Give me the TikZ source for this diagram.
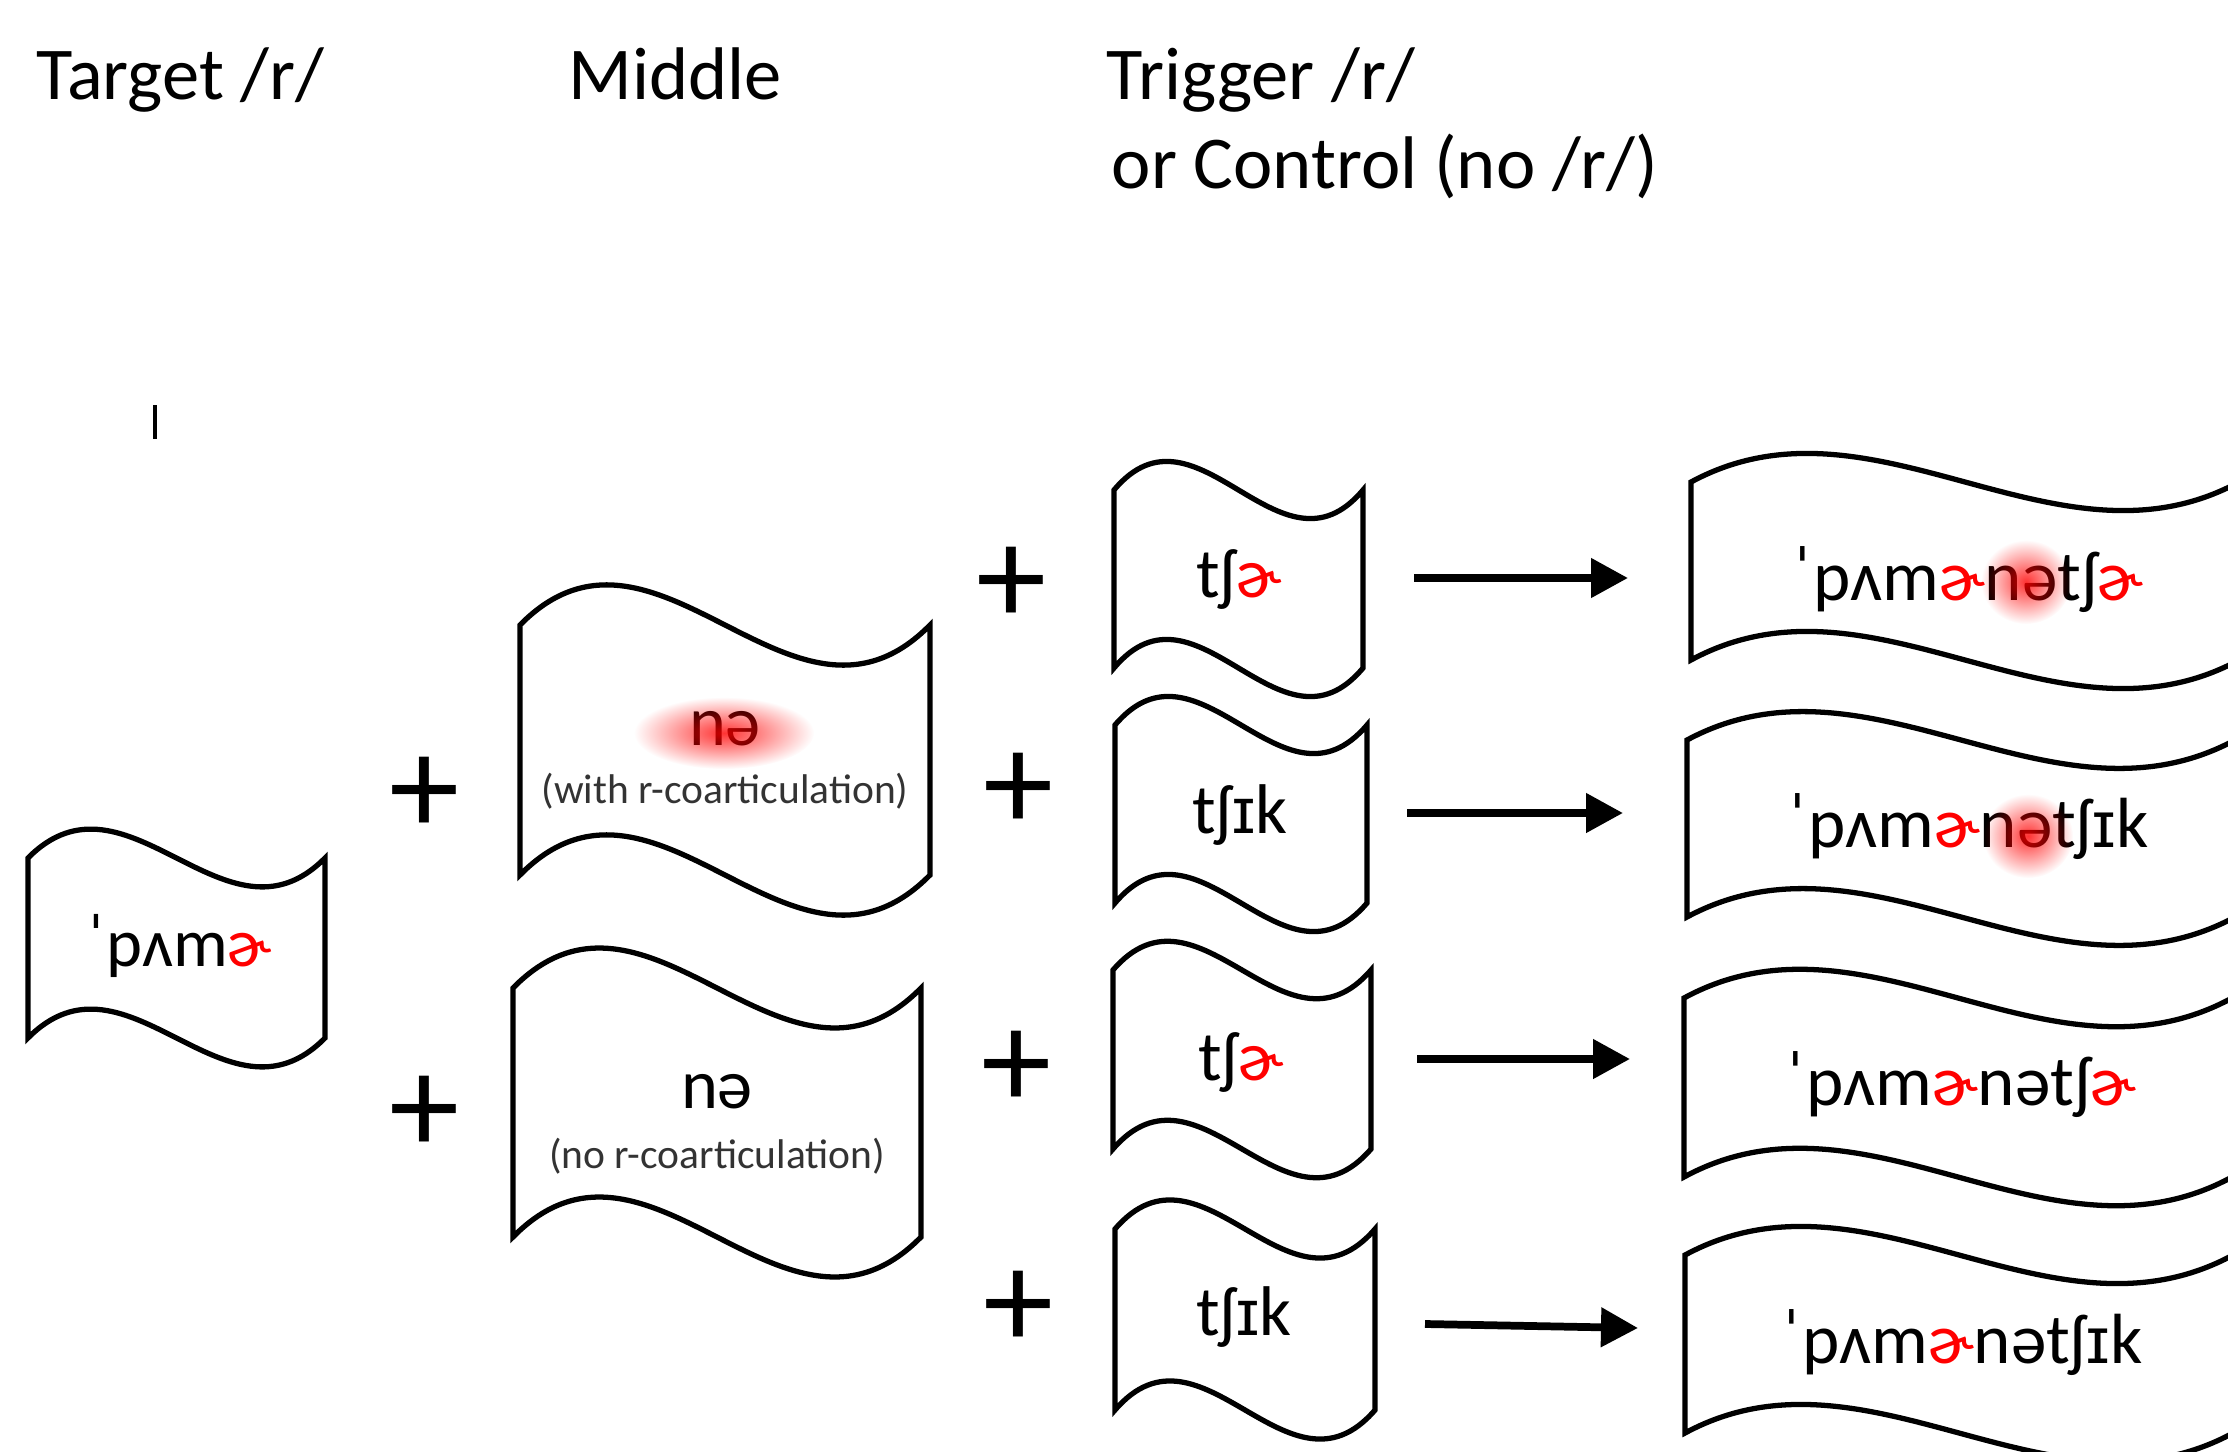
\documentclass[tikz,border=0pt]{standalone}
\usepackage{fontspec}
\setmainfont{Carlito}
\newfontfamily\ipaalt{Liberation Sans}[Scale=0.92]
\usetikzlibrary{arrows.meta,fadings}

\tikzfading[name=glowfade, inner color=transparent!20, outer color=transparent!100]

\newcommand{\rhot}[1]{\textcolor{red}{#1}}
\newcommand{\smI}{{\ipaalt ɪ}}
% flag: x, y (top left corner), width, height
\newcommand{\waveflag}[4]{%
  \draw[flagline] (#1,#2)
    .. controls ({#1+#3/3},{#2-0.556*#4}) and ({#1+2*#3/3},{#2+0.556*#4}) .. ({#1+#3},#2)
    -- ({#1+#3},{#2+#4})
    .. controls ({#1+2*#3/3},{#2+1.556*#4}) and ({#1+#3/3},{#2+0.444*#4}) .. (#1,{#2+#4})
    -- cycle;}

\begin{document}
\begin{tikzpicture}[x=0.01cm, y=-0.01cm,
    flagline/.style={line width=1.5pt, fill=white, line join=miter},
    title/.style={font=\fontsize{21.2}{25}\selectfont, anchor=base west, inner sep=0pt},
    ipa/.style={font=\fontsize{20}{24}\selectfont, anchor=base, inner sep=0pt},
    ipabig/.style={font=\fontsize{20.2}{24}\selectfont, anchor=base, inner sep=0pt},
    note/.style={font=\fontsize{11.8}{14}\selectfont, text=black!80, anchor=base, inner sep=0pt},
    plus/.style={font=\fontsize{40}{44}\selectfont, inner sep=0pt},
    arr/.style={line width=2.2pt, -{Triangle[length=0.37cm, width=0.38cm]}}]
  \useasboundingbox (0,0) rectangle (2228,1452);

  % headings
  \node[title] (htgt) at (36,100) {Target /r/};
  \node[title] (hmid) at (568,100) {Middle};
  \node[title] (htrg) at (1106,100) {Trigger /r/};
  \node[title] (hctl) at (1111,189) {or Control (no /r/)};
  \draw[line width=1.2pt] (155,405) -- (155,439);

  % flags
  \waveflag{28}{858}{297}{180}
  \waveflag{520}{625}{410}{250}
  \waveflag{513}{988}{408}{249}
  \waveflag{1114}{490}{249}{178}
  \waveflag{1115}{725}{252}{178}
  \waveflag{1113}{970}{258}{179}
  \waveflag{1115}{1229}{260}{181}
  \waveflag{1691}{482}{548}{178}
  \waveflag{1687}{740}{548}{177}
  \waveflag{1684}{998}{548}{179}
  \waveflag{1685}{1255}{548}{178}

  % texts
  \node[ipa, font=\fontsize{19.5}{23}\selectfont] (tgt) at (179,966) {ˈpʌm\rhot{ɚ}};
  \node[ipa] (mid1) at (725,745) {nə};
  \node[note] (mid1n) at (725,803) {(with r-coarticulation)};
  \node[ipa] (mid2) at (717,1108) {nə};
  \node[note] (mid2n) at (717,1168) {(no r-coarticulation)};
  \node[ipa] (trg1) at (1239,597) {tʃ\rhot{ɚ}};
  \node[ipa] (trg2) at (1240,833) {tʃ\smI k};
  \node[ipa] (trg3) at (1241,1080) {tʃ\rhot{ɚ}};
  \node[ipa] (trg4) at (1244,1335) {tʃ\smI k};
  \node[ipabig] (res1) at (1968,600) {ˈpʌm\rhot{ɚ}nətʃ\rhot{ɚ}};
  \node[ipabig] (res2) at (1968,847) {ˈpʌm\rhot{ɚ}nətʃ\smI k};
  \node[ipabig] (res3) at (1961,1105) {ˈpʌm\rhot{ɚ}nətʃ\rhot{ɚ}};
  \node[ipabig] (res4) at (1962,1363) {ˈpʌm\rhot{ɚ}nətʃ\smI k};

  % r-colouring glow
  \fill[red, path fading=glowfade] (724,733) ellipse [x radius=90, y radius=36];
  \fill[red, path fading=glowfade] (2026,582) ellipse [x radius=45, y radius=42];
  \fill[red, path fading=glowfade] (2028,836) ellipse [x radius=45, y radius=42];

  % plus signs
  \node[plus] (p1) at (425,796) {+};
  \node[plus] (p2) at (425,1115) {+};
  \node[plus] (p3) at (1012,586) {+};
  \node[plus] (p4) at (1019,792) {+};
  \node[plus] (p5) at (1017,1070) {+};
  \node[plus] (p6) at (1019,1310) {+};

  % arrows
  \coordinate (a1s) at (1414,578);  \coordinate (a1e) at (1628,578);
  \coordinate (a2s) at (1407,813);  \coordinate (a2e) at (1623,813);
  \coordinate (a3s) at (1417,1059); \coordinate (a3e) at (1630,1059);
  \coordinate (a4s) at (1425,1324); \coordinate (a4e) at (1638,1328);
  \draw[arr] (a1s) -- (a1e);
  \draw[arr] (a2s) -- (a2e);
  \draw[arr] (a3s) -- (a3e);
  \draw[arr] (a4s) -- (a4e);
\end{tikzpicture}
\end{document}
